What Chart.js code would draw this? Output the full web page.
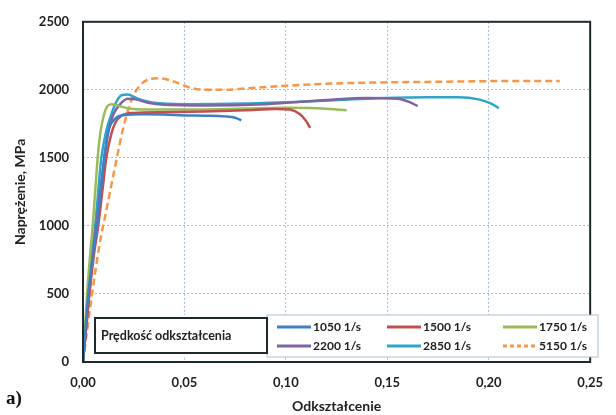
<!DOCTYPE html>
<html>
<head>
<meta charset="utf-8">
<script src="https://cdn.jsdelivr.net/npm/chart.js@4.4.1/dist/chart.umd.min.js"></script>
<style>
html, body { margin: 0; padding: 0; background: #fff; }
#wrap { width: 616px; height: 415px; position: relative; }
</style>
</head>
<body>
<div id="wrap"><canvas id="stressChart"></canvas></div>
<script>
// dane --------------------------------------------------------------------
var xTicks = [0, 0.05, 0.10, 0.15, 0.20, 0.25];
var yTicks = [0, 500, 1000, 1500, 2000, 2500];
var rateLabels = ['1050 1/s', '1500 1/s', '1750 1/s', '2200 1/s', '2850 1/s', '5150 1/s'];

var strain1050 = [0, 0.0025, 0.005, 0.007, 0.009, 0.011, 0.013, 0.016, 0.020, 0.03, 0.04, 0.05, 0.06, 0.07, 0.075, 0.078];
var stress1050 = [0, 480, 800, 1000, 1300, 1560, 1720, 1790, 1815, 1820, 1818, 1812, 1810, 1805, 1795, 1775];

var strain1500 = [0, 0.003, 0.0055, 0.0075, 0.0095, 0.0115, 0.0135, 0.016, 0.019, 0.025, 0.04, 0.06, 0.08, 0.095, 0.102, 0.107, 0.110, 0.112];
var stress1500 = [0, 480, 800, 1000, 1250, 1500, 1650, 1760, 1810, 1830, 1835, 1840, 1850, 1860, 1855, 1820, 1770, 1720];

var strain1750 = [0, 0.002, 0.0037, 0.0048, 0.006, 0.0072, 0.0087, 0.0105, 0.012, 0.014, 0.017, 0.022, 0.03, 0.05, 0.08, 0.10, 0.115, 0.125, 0.13];
var stress1750 = [0, 500, 820, 1000, 1250, 1495, 1700, 1825, 1880, 1895, 1885, 1865, 1855, 1855, 1862, 1868, 1865, 1855, 1850];

var strain2200 = [0, 0.003, 0.005, 0.0065, 0.0105, 0.0125, 0.015, 0.018, 0.022, 0.026, 0.032, 0.04, 0.06, 0.09, 0.12, 0.14, 0.155, 0.161, 0.165];
var stress2200 = [0, 480, 810, 1000, 1495, 1700, 1820, 1890, 1935, 1930, 1905, 1890, 1885, 1895, 1925, 1940, 1935, 1910, 1880];

var strain2850 = [0, 0.0025, 0.0045, 0.006, 0.009, 0.0115, 0.0135, 0.016, 0.019, 0.022, 0.027, 0.035, 0.05, 0.08, 0.11, 0.14, 0.17, 0.185, 0.195, 0.201, 0.205];
var stress2850 = [0, 500, 820, 1000, 1495, 1700, 1800, 1900, 1960, 1965, 1935, 1905, 1895, 1900, 1915, 1935, 1945, 1945, 1930, 1900, 1865];

var strain5150 = [0, 0.004, 0.008, 0.012, 0.016, 0.020, 0.024, 0.028, 0.033, 0.038, 0.045, 0.052, 0.06, 0.07, 0.08, 0.10, 0.12, 0.15, 0.18, 0.21, 0.235];
var stress5150 = [0, 450, 850, 1150, 1450, 1730, 1930, 2030, 2080, 2085, 2060, 2020, 2000, 2000, 2010, 2030, 2045, 2055, 2060, 2065, 2065];

var rateColors = ['#3f7fc4', '#c0504d', '#9bbb59', '#8064a2', '#2fa6c9', '#f79646'];

function toPoints(xs, ys) {
    var pts = [];
    for (var i = 0; i < xs.length; i++) {
        pts.push({ x: xs[i], y: ys[i] });
    }
    return pts;
}

var series = [
    toPoints(strain1050, stress1050),
    toPoints(strain1500, stress1500),
    toPoints(strain1750, stress1750),
    toPoints(strain2200, stress2200),
    toPoints(strain2850, stress2850),
    toPoints(strain5150, stress5150)
];

var datasets = [];
for (var i = 0; i < series.length; i++) {
    datasets.push({
        label: rateLabels[i],
        data: series[i],
        borderColor: rateColors[i],
        backgroundColor: rateColors[i],
        borderWidth: 2.5,
        borderDash: i === 5 ? [7, 4] : [],
        pointRadius: 0,
        fill: false,
        cubicInterpolationMode: 'monotone'
    });
}

var FONT = 'Lato, "Open Sans", sans-serif';

// ramka wykresu, legenda w srodku i podpis a) --------------------------------
var framePlugin = {
    id: 'frame',
    afterDraw: function (chart) {
        var ctx = chart.ctx;
        var a = chart.chartArea;
        ctx.save();
        ctx.strokeStyle = '#1e2a2e';
        ctx.lineWidth = 2;
        ctx.strokeRect(a.left, a.top, a.right - a.left, a.bottom - a.top);

        // legenda
        var lx = a.left + 12, ly = a.bottom - 44;
        ctx.fillStyle = '#fff';
        ctx.fillRect(lx, ly - 3, 503, 42);
        ctx.strokeStyle = '#a9bfd0';
        ctx.lineWidth = 1;
        ctx.strokeRect(lx + 172, ly - 3, 331, 42);
        ctx.strokeStyle = '#1e2a2e';
        ctx.lineWidth = 2;
        ctx.strokeRect(lx, ly, 172, 35);
        ctx.fillStyle = '#222';
        ctx.font = 'bold 12.5px ' + FONT;
        ctx.textBaseline = 'middle';
        ctx.textAlign = 'left';
        ctx.fillText('Prędkość odkształcenia', lx + 6, ly + 18);

        var colX = [lx + 182, lx + 292, lx + 408];
        var rowY = [ly + 9, ly + 28];
        ctx.font = 'bold 12px ' + FONT;
        chart.data.datasets.forEach(function (ds, k) {
            var cx = colX[k % 3], cy = rowY[Math.floor(k / 3)];
            ctx.strokeStyle = ds.borderColor;
            ctx.lineWidth = 3;
            ctx.setLineDash(ds.borderDash.length ? [4, 3] : []);
            ctx.beginPath();
            ctx.moveTo(cx, cy);
            ctx.lineTo(cx + 34, cy);
            ctx.stroke();
            ctx.setLineDash([]);
            ctx.fillStyle = '#222';
            ctx.fillText(ds.label, cx + 36, cy);
        });

        ctx.font = 'bold 19px "Liberation Serif", "DejaVu Serif", serif';
        ctx.textBaseline = 'alphabetic';
        ctx.fillStyle = '#111';
        ctx.fillText('a)', 6, 404);
        ctx.restore();
    }
};

var ctxEl = document.getElementById('stressChart');

if (ctxEl) {
    var chart = new Chart(ctxEl, {
        type: 'line',
        data: { datasets: datasets },
        options: {
            responsive: true,
            maintainAspectRatio: false,
            animation: false,
            layout: { padding: { left: 0, top: 21, right: 15, bottom: 0 } },
            plugins: {
                legend: { display: false },
                tooltip: { enabled: false }
            },
            scales: {
                x: {
                    type: 'linear',
                    min: xTicks[0],
                    max: xTicks[xTicks.length - 1],
                    afterBuildTicks: function (scale) {
                        scale.ticks = xTicks.map(function (v) { return { value: v }; });
                    },
                    afterFit: function (scale) { scale.height = 53; },
                    grid: { color: 'rgba(110,145,190,0.6)', drawTicks: false },
                    border: { display: false, dash: [2, 2] },
                    ticks: {
                        padding: 13,
                        color: '#222',
                        font: { family: FONT, size: 13, weight: 'bold' },
                        callback: function (v) { return v.toFixed(2).replace('.', ','); }
                    },
                    title: {
                        display: true,
                        text: 'Odkształcenie',
                        color: '#222',
                        font: { family: FONT, size: 14, weight: 'bold' },
                        padding: { top: 0, bottom: 0 }
                    }
                },
                y: {
                    min: yTicks[0],
                    max: yTicks[yTicks.length - 1],
                    afterBuildTicks: function (scale) {
                        scale.ticks = yTicks.map(function (v) { return { value: v }; });
                    },
                    afterFit: function (scale) { scale.width = 83; },
                    grid: { color: 'rgba(110,145,190,0.6)', drawTicks: false },
                    border: { display: false, dash: [2, 2] },
                    ticks: {
                        padding: 14,
                        color: '#222',
                        font: { family: FONT, size: 13, weight: 'bold' },
                        callback: function (v) { return String(v); }
                    },
                    title: {
                        display: true,
                        text: 'Naprężenie, MPa',
                        color: '#222',
                        font: { family: FONT, size: 14, weight: 'bold' },
                        padding: { top: 12, bottom: 0 }
                    }
                }
            }
        },
        plugins: [framePlugin]
    });
}
</script>
</body>
</html>
